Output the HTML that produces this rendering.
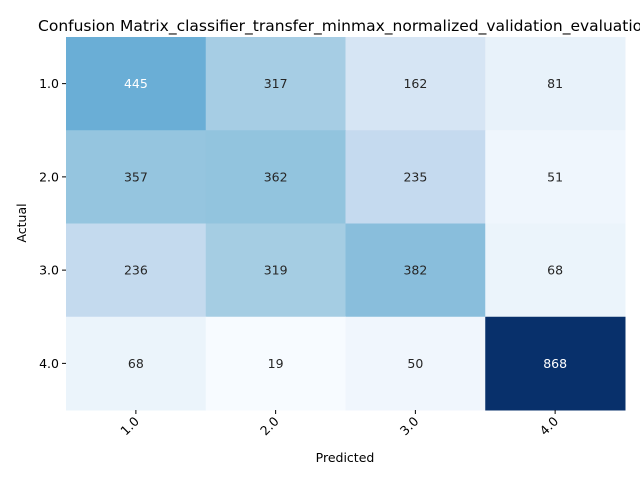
<!DOCTYPE html>
<html><head><meta charset="utf-8"><style>html,body{margin:0;padding:0;background:#fff;overflow:hidden;}svg{display:block;font-family:"DejaVu Sans","Liberation Sans",sans-serif;}</style></head>
<body>
<svg id="chart" width="640" height="480" xmlns="http://www.w3.org/2000/svg">
<text x="345" y="31" font-size="15.5" text-anchor="middle" fill="#000">Confusion Matrix_classifier_transfer_minmax_normalized_validation_evaluation</text>
<text x="345" y="462" font-size="12.5" text-anchor="middle" fill="#000">Predicted</text>
<text x="0" y="0" font-size="12.5" text-anchor="middle" fill="#000" transform="translate(26,223) rotate(-90)">Actual</text>
<g id="cells"></g>
</svg>
<script>
const xLabels = ["1.0","2.0","3.0","4.0"];
const yLabels = ["1.0","2.0","3.0","4.0"];
const row1 = [445,317,162,81];
const row2 = [357,362,235,51];
const row3 = [236,319,382,68];
const row4 = [68,19,50,868];
const matrix = [row1,row2,row3,row4];

const NS="http://www.w3.org/2000/svg";
const svg=document.getElementById('chart');
const g=document.getElementById('cells');
const L=66,T=37,W=559,H=373;
const cw=W/xLabels.length, ch=H/yLabels.length;
const xPos=i=>L+i*cw, yPos=j=>T+j*ch;
const stops=[[247,251,255],[222,235,247],[198,219,239],[158,202,225],[107,174,214],[66,146,198],[33,113,181],[8,81,156],[8,48,107]];
function blues(t){t=Math.max(0,Math.min(1,t));const p=t*(stops.length-1);const i=Math.min(Math.floor(p),stops.length-2);const f=p-i;
 return stops[i].map((v,k)=>Math.round(v+(stops[i+1][k]-v)*f));}
function lin(v){v/=255;return v<=0.03928?v/12.92:Math.pow((v+0.055)/1.055,2.4);}
const all=matrix.flat();const vmin=Math.min(...all),vmax=Math.max(...all);
function mk(tag,attrs,parent){const e=document.createElementNS(NS,tag);for(const k in attrs)e.setAttribute(k,attrs[k]);(parent||svg).appendChild(e);return e;}
matrix.forEach((row,j)=>row.forEach((v,i)=>{
 const t=(v-vmin)/(vmax-vmin);const c=blues(t);
 const r=mk('rect',{x:xPos(i),y:yPos(j),width:cw+0.5,height:ch+0.5,fill:`rgb(${c[0]},${c[1]},${c[2]})`},g);
 
 
 const lum=0.2126*lin(c[0])+0.7152*lin(c[1])+0.0722*lin(c[2]);
 const tx=mk('text',{x:xPos(i)+cw/2,y:yPos(j)+ch/2+4.5,'font-size':12.5,'text-anchor':'middle',fill:lum>0.408?'#262626':'#fff'});
 tx.textContent=v;
 
 
}));
xLabels.forEach((lab,i)=>{
 const cx=xPos(i)+cw/2;
 const tk=mk('line',{x1:cx,y1:T+H,x2:cx,y2:T+H+4,stroke:'#000','stroke-width':1});
 
 
 const tx=mk('text',{x:0,y:0,'font-size':12.5,'text-anchor':'end',fill:'#000',transform:`translate(${cx+4},${T+H+12}) rotate(-45)`});
 tx.textContent=lab;
 
 
});
yLabels.forEach((lab,j)=>{
 const cy=yPos(j)+ch/2;
 const tk=mk('line',{x1:L-4,y1:cy,x2:L,y2:cy,stroke:'#000','stroke-width':1});
 
 
 const tx=mk('text',{x:L-7,y:cy+4.5,'font-size':12.5,'text-anchor':'end',fill:'#000'});
 tx.textContent=lab;
 
 
});
</script>
</body></html>
